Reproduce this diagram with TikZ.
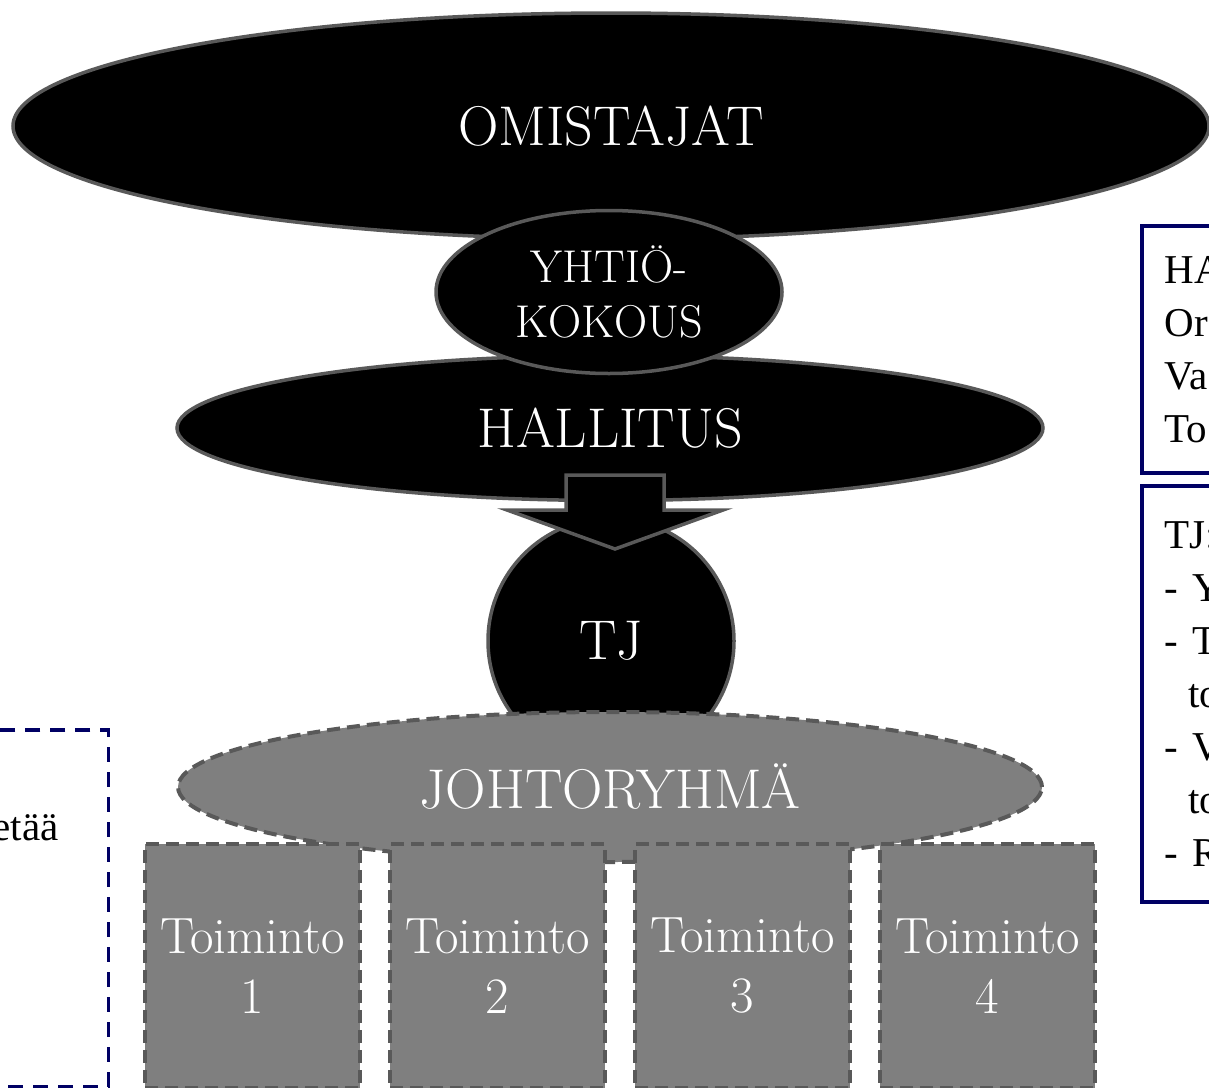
\documentclass[tikz,border=0pt]{standalone}
\usepackage{fontspec}
\newfontfamily\sidefont{Liberation Serif}
\usetikzlibrary{shapes.geometric}
\definecolor{ovalgray}{RGB}{89,89,89}
\definecolor{midgray}{RGB}{127,127,127}
\definecolor{boxnavy}{RGB}{0,0,100}
\tikzset{
  bigtext/.style={font=\fontsize{56}{66}\selectfont},
  blackoval/.style={ellipse, fill=black, draw=ovalgray, line width=3.5pt, text=white, inner sep=0pt, bigtext},
  greyoval/.style={ellipse, fill=midgray, draw=ovalgray, line width=4pt, dash pattern=on 13pt off 7pt, text=white, inner sep=0pt, bigtext},
  toimintobox/.style={rectangle, fill=midgray, draw=ovalgray, line width=4pt, dash pattern=on 13pt off 7pt, text=white, align=center, minimum width=215pt, minimum height=244pt, inner sep=0pt, font=\fontsize{51}{60}\selectfont},
  sidebox/.style={rectangle, draw=boxnavy, line width=3.5pt, anchor=north west, align=left, text width=200pt, inner xsep=23pt, inner ysep=0pt, font=\sidefont\fontsize{41}{53}\selectfont},
  dashbox/.style={rectangle, draw=boxnavy, line width=3.5pt, dash pattern=on 15pt off 10pt, anchor=north east, inner sep=0pt}
}
\begin{document}
\begin{tikzpicture}[x=1pt, y=-1pt]
  \useasboundingbox (0,0) rectangle (1209,1087);
  \clip (0,0) rectangle (1209,1087);
  % Omistajat und Hallitus
  \node[blackoval, minimum width=1196pt, minimum height=226pt] (omistajat) at (611,126) {OMISTAJAT};
  \node[blackoval, minimum width=866pt, minimum height=145pt] (hallitus) at (610,428) {HALLITUS};
  \node[blackoval, minimum width=346pt, minimum height=163pt, align=center, font=\fontsize{46}{55}\selectfont] (kokous) at (609,292) {YHTIÖ-\\KOKOUS};
  % TJ
  \node[circle, fill=black, draw=ovalgray, line width=3.5pt, text=white, minimum size=246pt, inner sep=0pt, bigtext] (tj) at (611,641) {TJ};
  % Pfeil
  \draw[fill=black, draw=ovalgray, line width=3.5pt, line join=miter]
    (566,475) -- (664,475) -- (664,510) -- (723,510) -- (615,549) -- (507,510) -- (566,510) -- cycle;
  % Johtoryhmä und Toiminnot
  \node[greyoval, minimum width=864pt, minimum height=150pt] (johto) at (610,787) {JOHTORYHMÄ};
  \foreach \i in {1,...,4}
    \node[toimintobox] (toim\i) at ({252.5+245*(\i-1)}, 966) {Toiminto\\\i};
  % Seitenkästen
  \node[sidebox, minimum height=247pt] (hallbox) at (1140,224) {HA\\Or\\Va\\To};
  \node[sidebox, minimum height=416pt] (tjbox) at (1140,484)
    {TJ:\\- Y\\- T\\\hspace*{0.58em}to\\- V\\\hspace*{0.58em}to\\- R};
  \node[dashbox, minimum width=200pt, minimum height=357pt] (vasbox) at (110,728) {};
  \node[anchor=base east, font=\sidefont\fontsize{41}{53}\selectfont] (vastext) at (62,840) {etää};
\end{tikzpicture}
\end{document}
